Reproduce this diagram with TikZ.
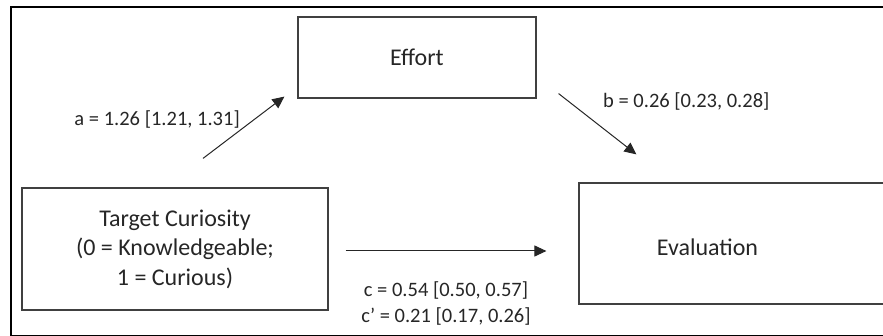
\documentclass[tikz,border=0pt]{standalone}
\usepackage{fontspec}
\setmainfont{Carlito}
\usetikzlibrary{arrows.meta, quotes}
\definecolor{linegray}{HTML}{404040}
\definecolor{textgray}{HTML}{262626}

\begin{document}
\begin{tikzpicture}[
	x=0.5pt, y=-0.5pt,
	box/.style = {draw=linegray, line width=0.6pt, inner sep=0pt, align=center,
	              text=textgray, font=\fontsize{12}{14.75}\selectfont},
	arr/.style = {line width=0.5pt, draw=black!85, -{Triangle[length=6pt, width=5.5pt]}},
	every edge quotes/.style = {align=center, inner sep=0pt, text=textgray,
	              font=\fontsize{10.25}{13}\selectfont}
     ]
\useasboundingbox (0,0) rectangle (883,336);
\clip (0,0) rectangle (883,336);
\draw[line width=1pt] (11,7) rectangle (900,335.5);
%
		\node (tgt) [box, minimum width=153pt, minimum height=61pt] at (175,249)
			{Target Curiosity\\(0 = Knowledgeable;\\1 = Curious)};
		\node (eff) [box, minimum width=119pt, minimum height=40.5pt] at (417,57.5) {Effort};
		\node (eval) [box, minimum width=153pt, minimum height=60.5pt,
			label={[box, draw=none, xshift=-12.25pt, yshift=-1.75pt]center:Evaluation}] at (732,243.5) {};
%
		\draw[arr]
		([shift={(28,-29)}] tgt.north) to ["{a = 1.26 [1.21, 1.31]}" {left=7pt, pos=.63}]
		([shift={(-13,-2)}] eff.south west);
%
		\draw[arr]
		([shift={(22,-5)}] eff.south east) to ["{b = 0.26 [0.23, 0.28]}" {right=17pt, pos=.13}]
		([shift={(58,-28)}] eval.north west);
%
		\draw[arr]
		([shift={(17,2)}] tgt.east) to ["{c = 0.54 [0.50, 0.57]\\c’ = 0.21 [0.17, 0.26]}" {below=15pt}]
		([shift={(-32,7.5)}] eval.west);
\end{tikzpicture}
\end{document}
